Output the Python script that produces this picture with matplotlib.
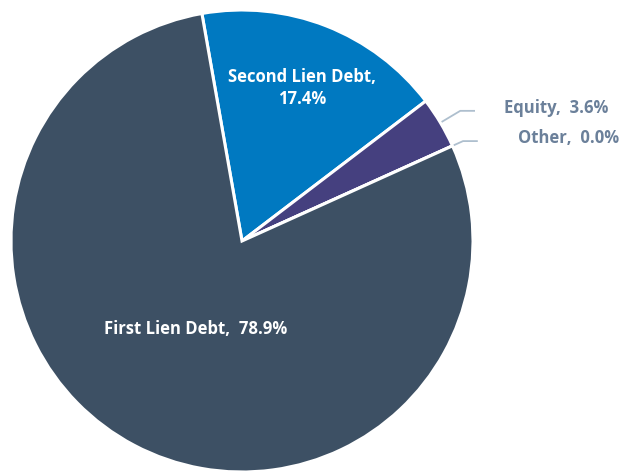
import numpy as np
import matplotlib
matplotlib.use("Agg")
import matplotlib.pyplot as plt

plt.rcParams['font.family'] = ['Open Sans', 'DejaVu Sans']

# data
categories = ['Second Lien Debt', 'Equity', 'Other', 'First Lien Debt']
shares = [17.4, 3.6, 0.0, 78.9]
colors = ['#0079C1', '#45407F', '#3E5166', '#3D5064']
inside = [True, False, False, True]

fig = plt.figure(figsize=(6.23, 4.72), dpi=100)
ax = fig.add_axes([11 / 623, 0 / 472, 462 / 623, 462 / 472])

wedges, _ = ax.pie(shares, colors=colors, startangle=100, counterclock=False,
                   radius=1.0, wedgeprops=dict(edgecolor='white', linewidth=2.2))
ax.set_xlim(-1, 1)
ax.set_ylim(-1, 1)
ax.set_aspect('equal')
ax.axis('off')

# inside labels
in_r = {'Second Lien Debt': 0.71, 'First Lien Debt': 0.43}
out_text_x = {'Equity': 1.135, 'Other': 1.195}
for w, cat, val, ins in zip(wedges, categories, shares, inside):
    ang = np.deg2rad((w.theta1 + w.theta2) / 2)
    if ins:
        r = in_r[cat]
        if cat == 'Second Lien Debt':
            txt = '{},\n{:.1f}%'.format(cat, val)
        else:
            txt = '{},  {:.1f}%'.format(cat, val)
        ax.text(r * np.cos(ang), r * np.sin(ang), txt, color='white',
                fontsize=12, fontweight='bold', ha='center', va='center',
                linespacing=1.3)
    else:
        x0, y0 = 1.01 * np.cos(ang), 1.01 * np.sin(ang)
        re = 1.1 if cat == 'Equity' else 1.05
        x1, y1 = re * np.cos(ang), re * np.sin(ang)
        x2 = x1 + 0.06
        ax.plot([x0, x1, x2], [y0, y1, y1], color='#AEBFCE', lw=1.3,
                clip_on=False)
        ax.text(out_text_x[cat], y1 + 0.012, '{},  {:.1f}%'.format(cat, val),
                color='#6B809A', fontsize=12, fontweight='bold',
                ha='left', va='center')

fig.savefig('out.png', dpi=100)
